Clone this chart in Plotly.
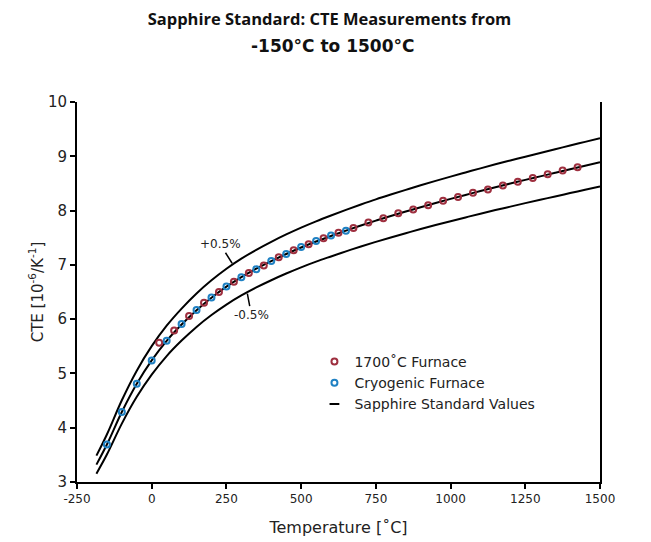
import plotly.graph_objects as go

# Sapphire standard curve and its bands
std_T = [-185, -150, -100, -50, 0, 50, 100, 150, 200, 250, 300, 350, 400, 450, 500,
         550, 600, 650, 700, 750, 800, 850, 900, 950, 1000, 1050, 1100, 1150, 1200,
         1250, 1300, 1350, 1400, 1450, 1500]
std_mid = [3.32, 3.69, 4.29, 4.81, 5.24, 5.60, 5.90, 6.165, 6.395, 6.598, 6.775, 6.93,
           7.07, 7.20, 7.32, 7.43, 7.532, 7.63, 7.725, 7.815, 7.90, 7.982, 8.062, 8.14,
           8.215, 8.288, 8.36, 8.43, 8.498, 8.565, 8.63, 8.695, 8.76, 8.825, 8.89]
std_upper = [3.486, 3.875, 4.505, 5.05, 5.502, 5.88, 6.195, 6.473, 6.715, 6.928, 7.114,
             7.277, 7.424, 7.56, 7.686, 7.802, 7.909, 8.012, 8.111, 8.206, 8.295, 8.381,
             8.465, 8.547, 8.626, 8.702, 8.778, 8.852, 8.923, 8.993, 9.062, 9.13, 9.198,
             9.266, 9.335]
std_lower = [3.154, 3.506, 4.076, 4.57, 4.978, 5.32, 5.605, 5.857, 6.075, 6.268, 6.436,
             6.584, 6.717, 6.84, 6.954, 7.059, 7.155, 7.249, 7.339, 7.424, 7.505, 7.583,
             7.659, 7.733, 7.804, 7.874, 7.942, 8.009, 8.073, 8.137, 8.199, 8.26, 8.322,
             8.384, 8.446]

# 1700 °C furnace measurements
hot_T = [25, 75, 125, 175, 225, 275, 325, 375, 425, 475, 525, 575, 625, 675, 725, 775,
         825, 875, 925, 975, 1025, 1075, 1125, 1175, 1225, 1275, 1325, 1375, 1425]
hot_cte = [5.565, 5.79, 6.06, 6.30, 6.50, 6.69, 6.85, 6.99, 7.14, 7.27, 7.38, 7.49, 7.59,
           7.68, 7.78, 7.86, 7.95, 8.02, 8.10, 8.18, 8.25, 8.33, 8.39, 8.46, 8.53, 8.60,
           8.67, 8.74, 8.80]

# Cryogenic furnace measurements
cryo_T = [-150, -100, -50, 0, 50, 100, 150, 200, 250, 300, 350, 400, 450, 500, 550, 600, 650]
cryo_cte = [3.69, 4.29, 4.81, 5.24, 5.60, 5.91, 6.17, 6.40, 6.60, 6.77, 6.92, 7.07, 7.20,
            7.33, 7.44, 7.54, 7.63]

x_ticks = [-250, 0, 250, 500, 750, 1000, 1250, 1500]
x_ticktext = ["-250", "0", "250", "500", "750", "1000", "1250", "1500"]
y_ticks = [3, 4, 5, 6, 7, 8, 9, 10]

RED = "#9e2f3f"
BLUE = "#1f81c3"
FONT = "DejaVu Sans"

fig = go.Figure()
line_style = dict(color="black", width=2, shape="spline", smoothing=1.0)
for ys in (std_upper, std_mid, std_lower):
    fig.add_trace(go.Scatter(x=std_T, y=ys, mode="lines", line=line_style,
                             showlegend=False, hoverinfo="skip"))

fig.add_trace(go.Scatter(x=hot_T, y=hot_cte, mode="markers", name="1700˚C Furnace",
                         marker=dict(symbol="circle-open", size=6, color=RED,
                                     line=dict(width=2, color=RED))))
fig.add_trace(go.Scatter(x=cryo_T, y=cryo_cte, mode="markers", name="Cryogenic Furnace",
                         marker=dict(symbol="circle-open", size=6, color=BLUE,
                                     line=dict(width=2, color=BLUE))))
fig.add_trace(go.Scatter(x=[None], y=[None], mode="markers", name="Sapphire Standard Values",
                         marker=dict(symbol="line-ew-open", size=7, color="black",
                                     line=dict(width=2, color="black"))))

fig.add_annotation(x=269, y=7.03, text="+0.5%", showarrow=True, arrowhead=0,
                   arrowwidth=1.5, arrowcolor="black", ax=-12, ay=-19,
                   font=dict(family=FONT, size=12, color="#222"))
fig.add_annotation(x=320, y=6.47, text="-0.5%", showarrow=True, arrowhead=0,
                   arrowwidth=1.5, arrowcolor="black", ax=4, ay=21,
                   font=dict(family=FONT, size=12, color="#222"))

# second line of the title (kept separate for the wider line spacing of the original)
fig.add_annotation(xref="paper", yref="paper", x=0.488, y=1.148, xanchor="center",
                   yanchor="middle", showarrow=False, text="<b>-150°C to 1500°C</b>",
                   font=dict(family="DejaVu Sans", size=17, color="#111"))

# the page body adds an 8px margin, so the figure is 8px smaller than the window
fig.update_layout(
    width=643, height=534,
    margin=dict(l=68.5, r=50.5, t=94, b=60, autoexpand=False),
    paper_bgcolor="white", plot_bgcolor="white",
    font=dict(family=FONT, color="#222", size=13),
    title=dict(text="<b>Sapphire Standard: CTE Measurements from</b>",
               x=0.5, xanchor="center", y=0.979, yanchor="middle",
               font=dict(family="Open Sans", size=16.5, color="#111")),
    legend=dict(x=0.454, y=0.358, xanchor="left", yanchor="top",
                font=dict(family=FONT, size=14, color="#222"),
                bgcolor="rgba(0,0,0,0)", tracegroupgap=0),
    showlegend=True,
)
fig.update_xaxes(range=[-250, 1500], tickvals=x_ticks, ticktext=x_ticktext,
                 ticks="outside", ticklen=5, automargin=False,
                 tickwidth=1.5, tickcolor="black", showline=True, linecolor="black",
                 linewidth=2, showgrid=False, zeroline=False,
                 tickfont=dict(size=12),
                 title=dict(text="Temperature [˚C]", standoff=16,
                            font=dict(size=16)))
fig.update_yaxes(range=[3, 10], tickvals=y_ticks, ticks="outside", ticklen=5,
                 automargin=False,
                 tickwidth=1.5, tickcolor="black", showline=True, linecolor="black",
                 linewidth=2, mirror=True, showgrid=False, zeroline=False,
                 tickfont=dict(size=15),
                 title=dict(text="CTE [10<sup>-6</sup>/K<sup>-1</sup>]", standoff=1,
                            font=dict(size=15)))

fig.write_html("out.html")
